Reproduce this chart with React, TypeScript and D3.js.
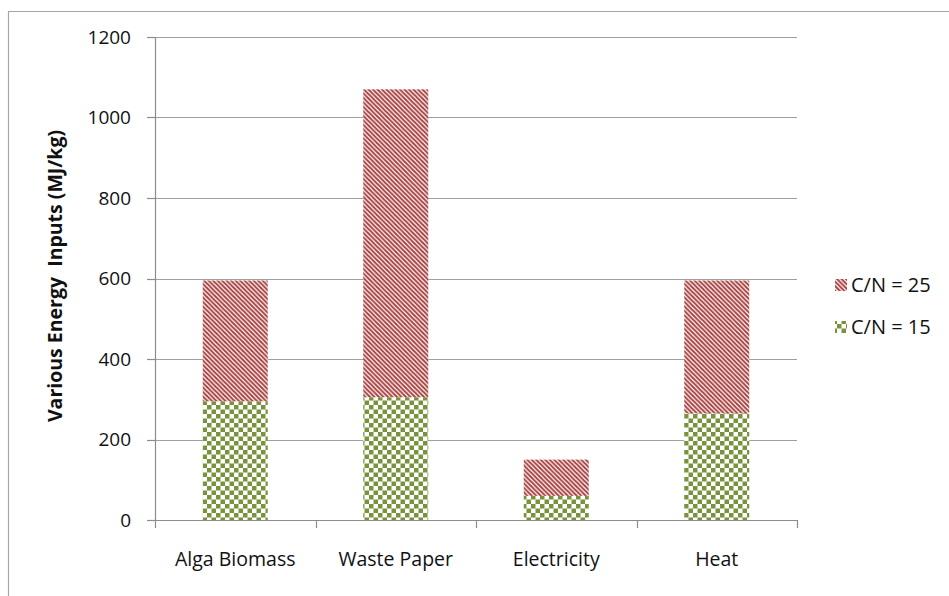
import React, { useEffect, useRef } from "react";
import * as d3 from "d3";

const categories = ["Alga Biomass", "Waste Paper", "Electricity", "Heat"];
const seriesNames = ["C/N = 15", "C/N = 25"];
const cn15 = [295, 305, 60, 265];
const cn25 = [300, 765, 90, 330];
const yTicks = [0, 200, 400, 600, 800, 1000, 1200];

const W = 949;
const H = 596;

export default function App() {
  const ref = useRef<SVGSVGElement>(null);

  useEffect(() => {
    const svg = d3.select(ref.current);
    svg.selectAll("*").remove();

    const left = 155, right = 797, top = 37, bottom = 520;
    const x = d3.scaleBand<string>().domain(categories).range([left, right]).paddingInner(0.595).paddingOuter(0.2975);
    const y = d3.scaleLinear().domain([0, 1200]).range([bottom, top]);

    const defs = svg.append("defs");
    const stripe = defs.append("pattern").attr("id", "stripe").attr("patternUnits", "userSpaceOnUse")
      .attr("width", 4.5).attr("height", 4.5);
    stripe.append("rect").attr("width", 4.5).attr("height", 4.5).attr("fill", "#fff");
    stripe.append("path").attr("d", "M-1,-1 L5.5,5.5 M-1,3.5 L1,5.5 M3.5,-1 L5.5,1")
      .attr("stroke", "#A9403F").attr("stroke-width", 2);

    const check = defs.append("pattern").attr("id", "check").attr("patternUnits", "userSpaceOnUse")
      .attr("width", 9).attr("height", 9);
    check.append("rect").attr("width", 9).attr("height", 9).attr("fill", "#fff");
    check.append("rect").attr("width", 4.5).attr("height", 4.5).attr("fill", "#77933C");
    check.append("rect").attr("x", 4.5).attr("y", 4.5).attr("width", 4.5).attr("height", 4.5).attr("fill", "#77933C");

    // outer border
    svg.append("path").attr("d", `M8.5,${H} L8.5,11.5 L${W},11.5`).attr("fill", "none")
      .attr("stroke", "#A6A6A6").attr("stroke-width", 1.2);

    // gridlines
    svg.append("g").selectAll("line").data(yTicks.filter(d => d > 0)).join("line")
      .attr("x1", left).attr("x2", right)
      .attr("y1", d => Math.round(y(d)) + 0.5).attr("y2", d => Math.round(y(d)) + 0.5)
      .attr("stroke", "#A0A0A0").attr("stroke-width", 1.2);

    const fontFam = "'Open Sans', sans-serif";
    const txt = "#111";

    // bars
    const stackData = categories.map((c, i) => ({ cat: c, a: cn15[i], b: cn25[i] }));
    const gBars = svg.append("g");
    gBars.selectAll("rect.a").data(stackData).join("rect")
      .attr("x", d => x(d.cat)!).attr("width", x.bandwidth())
      .attr("y", d => y(d.a)).attr("height", d => y(0) - y(d.a))
      .attr("fill", "url(#check)");
    gBars.selectAll("rect.b").data(stackData).join("rect")
      .attr("x", d => x(d.cat)!).attr("width", x.bandwidth())
      .attr("y", d => y(d.a + d.b)).attr("height", d => y(d.a) - y(d.a + d.b))
      .attr("fill", "url(#stripe)");

    // y axis
    const axisColor = "#8C8C8C";
    svg.append("line").attr("x1", left + 0.5).attr("x2", left + 0.5).attr("y1", top).attr("y2", bottom)
      .attr("stroke", axisColor).attr("stroke-width", 1.2);
    svg.append("g").selectAll("line").data(yTicks).join("line")
      .attr("x1", left - 8).attr("x2", left)
      .attr("y1", d => Math.round(y(d)) + 0.5).attr("y2", d => Math.round(y(d)) + 0.5)
      .attr("stroke", axisColor).attr("stroke-width", 1.2);
    svg.append("g").selectAll("text").data(yTicks).join("text")
      .attr("x", 131).attr("y", d => y(d)).attr("dy", "0.35em")
      .attr("text-anchor", "end").attr("font-family", fontFam).attr("font-size", 19)
      .attr("fill", txt).text(d => String(d));

    // x axis
    svg.append("line").attr("x1", left).attr("x2", right).attr("y1", bottom + 0.5).attr("y2", bottom + 0.5)
      .attr("stroke", axisColor).attr("stroke-width", 1.2);
    const bounds = d3.range(categories.length + 1).map(i => left + (i * (right - left)) / categories.length);
    svg.append("g").selectAll("line").data(bounds).join("line")
      .attr("x1", d => Math.round(d) + 0.5).attr("x2", d => Math.round(d) + 0.5)
      .attr("y1", bottom).attr("y2", bottom + 8)
      .attr("stroke", axisColor).attr("stroke-width", 1.2);
    svg.append("g").selectAll("text").data(categories).join("text")
      .attr("x", d => x(d)! + x.bandwidth() / 2).attr("y", 559).attr("dy", "0.35em")
      .attr("text-anchor", "middle").attr("font-family", fontFam).attr("font-size", 19.5)
      .attr("fill", txt).text(d => d);

    // y title
    svg.append("text").attr("transform", `translate(55,${276}) rotate(-90)`)
      .attr("text-anchor", "middle").attr("dy", "0.35em")
      .attr("font-family", fontFam).attr("font-size", 19.5).attr("font-weight", "bold")
      .attr("fill", txt).style("white-space", "pre").text("Various Energy  Inputs (MJ/kg)");

    // legend
    const legend = [
      { name: seriesNames[1], fill: "url(#stripe)", y: 285 },
      { name: seriesNames[0], fill: "url(#check)", y: 327 },
    ];
    const lg = svg.append("g");
    lg.selectAll("rect").data(legend).join("rect")
      .attr("x", 835).attr("y", d => d.y - 6).attr("width", 12).attr("height", 12)
      .attr("fill", d => d.fill);
    lg.selectAll("text").data(legend).join("text")
      .attr("x", 851).attr("y", d => d.y).attr("dy", "0.35em")
      .attr("font-family", fontFam).attr("font-size", 20).attr("fill", txt)
      .style("white-space", "pre").text(d => d.name);
  }, []);

  return (
    <svg ref={ref} width={W} height={H}
      style={{ position: "absolute", left: 0, top: 0, background: "#fff" }} />
  );
}
